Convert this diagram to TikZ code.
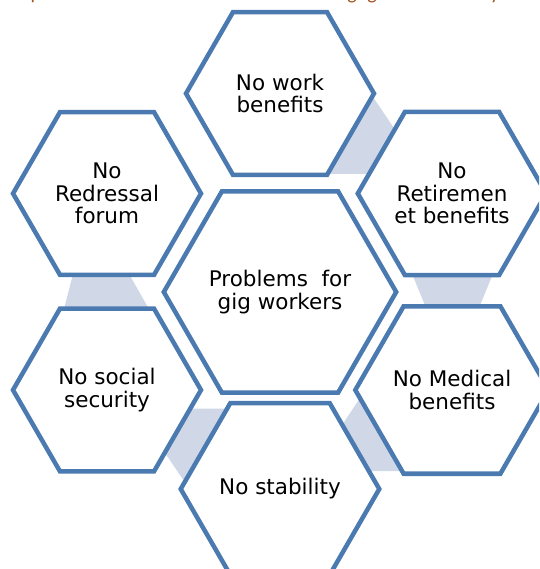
\documentclass[tikz,border=0pt]{standalone}
\usepackage{fontspec}
\setmainfont{DejaVu Sans}
\newfontfamily\titlefont{Carlito}
\usetikzlibrary{shapes.geometric,calc}
\definecolor{hexline}{RGB}{74,122,176}
\definecolor{linkfill}{RGB}{208,216,232}
\definecolor{titlecol}{RGB}{165,82,30}
\tikzset{
  hexbox/.style={regular polygon, regular polygon sides=6, draw=hexline,
    line width=4.5pt, fill=white, minimum size=188pt, inner sep=0pt,
    outer sep=0pt, align=center, text=black,
    font=\fontsize{21.5}{22.5}\selectfont},
  corehex/.style={hexbox, minimum size=226pt},
  linkband/.style={fill=linkfill, draw=none},
  titlebit/.style={font=\titlefont\fontsize{20}{24}\selectfont,
    text=titlecol, anchor=base, inner sep=0pt}
}
\begin{document}
\begin{tikzpicture}[x=1pt,y=-1pt]
  \useasboundingbox (0,0) rectangle (539,569);
  \clip (0,0) rectangle (539,569);

  % centres of the seven hexagons
  \coordinate (c-work) at (280,93.5);
  \coordinate (c-ret)  at (452,193.5);
  \coordinate (c-med)  at (452,390);
  \coordinate (c-stab) at (280,489);
  \coordinate (c-soc)  at (107,390);
  \coordinate (c-red)  at (107,193.5);
  \coordinate (c-core) at (280,292);

  % tails of the heading line above the cluster
  \node[titlebit] (tp)  at (36,0)  {p};
  \node[titlebit] (tg1) at (352,0) {g};
  \node[titlebit] (tg2) at (372,0) {g};
  \node[titlebit] (ty)  at (495,0) {y};

  % shaded bands linking neighbouring outer hexagons
  \fill[linkband] ($(c-work)+(86.7,-5.8)$) -- ($(c-work)+(118,40.5)$)
    -- ($(c-work)+(96,80.5)$) -- ($(c-work)+(40,80.5)$) -- cycle;
  \fill[linkband] ($(c-ret)+(-44,70.5)$) -- ($(c-ret)+(45,70.5)$)
    -- ($(c-ret)+(22,126.5)$) -- ($(c-ret)+(-21,126.5)$) -- cycle;
  \fill[linkband] ($(c-med)+(-84.8,-2.8)$) -- ($(c-med)+(-115.4,43.1)$)
    -- ($(c-med)+(-97,81)$) -- ($(c-med)+(-37,81)$) -- cycle;
  \fill[linkband] ($(c-stab)+(-86.7,5.8)$) -- ($(c-stab)+(-118,-40.5)$)
    -- ($(c-stab)+(-96,-80.5)$) -- ($(c-stab)+(-40,-80.5)$) -- cycle;
  \fill[linkband] ($(c-red)+(-31.4,70.5)$) -- ($(c-red)+(16.3,70.5)$)
    -- ($(c-red)+(47.7,125.5)$) -- ($(c-red)+(-45.6,125.5)$) -- cycle;

  % hexagons
  \node[hexbox]  (work) at (c-work) {No work\\benefits};
  \node[hexbox]  (ret)  at (c-ret)  {No\\Retiremen\\et benefits};
  \node[hexbox]  (med)  at (c-med)  {No Medical\\benefits};
  \node[hexbox]  (stab) at (c-stab) {No stability};
  \node[hexbox]  (soc)  at (c-soc)  {No social\\security};
  \node[hexbox]  (red)  at (c-red)  {No\\Redressal\\forum};
  \node[corehex] (core) at (c-core) {Problems\ \ for\\gig workers};
\end{tikzpicture}
\end{document}
